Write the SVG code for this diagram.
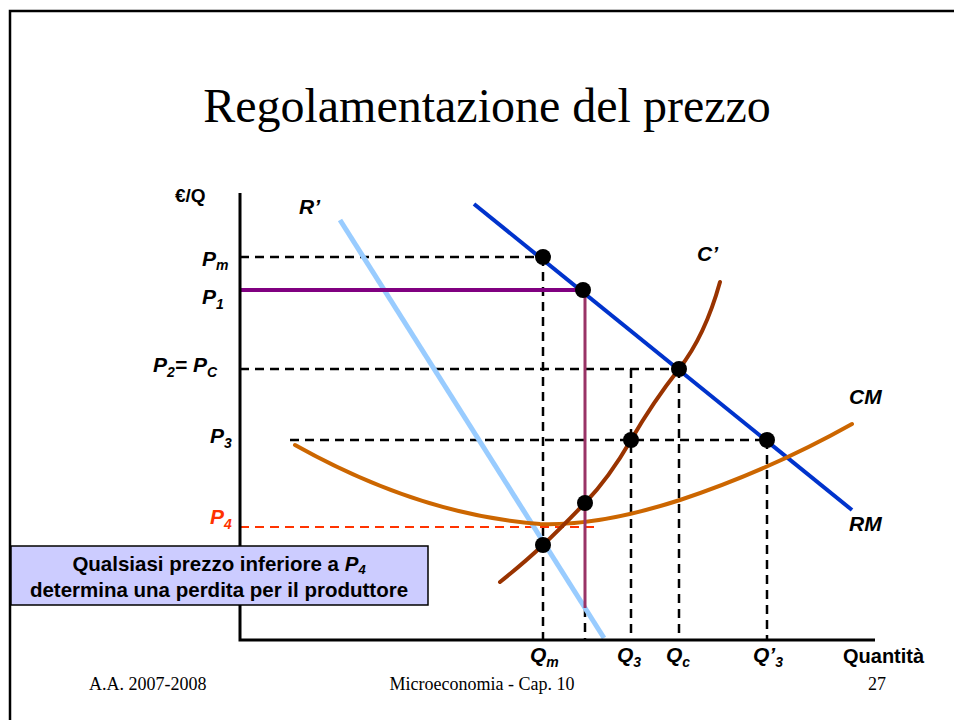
<svg xmlns="http://www.w3.org/2000/svg" width="954" height="720" viewBox="0 0 954 720">
<style>
.dash{stroke:#000;stroke-width:2.5;stroke-dasharray:9,6;fill:none}
.lbl{font-family:"Liberation Sans",Arial,sans-serif;font-weight:bold;font-style:italic;font-size:21px;fill:#000}
.sub{font-size:14px}
.ax{font-family:"Liberation Sans",Arial,sans-serif;font-weight:bold;font-size:20px;fill:#000}
.foot{font-family:"Liberation Serif","Times New Roman",serif;font-size:18px;fill:#000}
.note{font-family:"Liberation Sans",Arial,sans-serif;font-weight:bold;font-size:20.5px;fill:#000}
.dot{fill:#000}
</style>
<rect x="0" y="0" width="954" height="720" fill="#fff"/>
<rect x="10" y="11" width="960" height="720" fill="none" stroke="#000" stroke-width="2.5"/>
<text x="487" y="122" text-anchor="middle" font-family="Liberation Serif,'Times New Roman',serif" font-size="48" fill="#000">Regolamentazione del prezzo</text>
<g id="connectors">
<path class="dash" d="M240,257 H543 M543,257 V640"/>
<path class="dash" d="M240,369 H679 M679,369 V640 M631,369 V640"/>
<path class="dash" d="M290,440 H767 M767,440 V640"/>
<path class="dash" d="M585,608 V640"/>
<path d="M240,527 H595" stroke="#ff3300" stroke-width="2" stroke-dasharray="9,6" fill="none"/>
<line x1="340" y1="220" x2="604" y2="638" stroke="#99ccff" stroke-width="5"/>
<line x1="474" y1="204" x2="852" y2="510" stroke="#0033cc" stroke-width="4"/>
<path d="M295,445 Q420,515 540,524 Q600,526 680,500 Q770,470 852,424" fill="none" stroke="#cc6600" stroke-width="4" stroke-linecap="round"/>
<path d="M500,582 Q525,562 543,545 T585,503 T631,440 T679,369 T720,282" fill="none" stroke="#993300" stroke-width="4" stroke-linecap="round"/>
<line x1="240" y1="290" x2="583" y2="290" stroke="#800080" stroke-width="4"/>
<line x1="585" y1="290" x2="585" y2="608" stroke="#993366" stroke-width="3"/>
<path d="M240,193 V640 H875" fill="none" stroke="#000" stroke-width="3"/>
</g>
<g id="points">
<circle class="dot" cx="543" cy="257" r="8"/>
<circle class="dot" cx="583" cy="290" r="8"/>
<circle class="dot" cx="679" cy="369" r="8"/>
<circle class="dot" cx="767" cy="440" r="8"/>
<circle class="dot" cx="631" cy="440" r="8"/>
<circle class="dot" cx="585" cy="503" r="8"/>
<circle class="dot" cx="543" cy="545" r="8"/>
</g>
<g id="labels">
<text class="ax" x="175" y="202" style="font-size:19px">€/Q</text>
<text class="lbl" x="299" y="214">R’</text>
<text class="lbl" x="697" y="261">C’</text>
<text class="lbl" x="849" y="404">CM</text>
<text class="lbl" x="849" y="531">RM</text>
<text class="lbl" x="202" y="266">P<tspan class="sub" dy="4">m</tspan></text>
<text class="lbl" x="202" y="304">P<tspan class="sub" dy="5">1</tspan></text>
<text class="lbl" x="153" y="372">P<tspan class="sub" dy="5">2</tspan><tspan dy="-5">= P</tspan><tspan class="sub" dy="5">C</tspan></text>
<text class="lbl" x="210" y="443">P<tspan class="sub" dy="5">3</tspan></text>
<text class="lbl" x="210" y="524" style="fill:#ff3300">P<tspan class="sub" dy="5">4</tspan></text>
<text class="lbl" x="530" y="662">Q<tspan class="sub" dy="5">m</tspan></text>
<text class="lbl" x="617" y="662">Q<tspan class="sub" dy="5">3</tspan></text>
<text class="lbl" x="666" y="662">Q<tspan class="sub" dy="5">c</tspan></text>
<text class="lbl" x="753" y="662">Q’<tspan class="sub" dy="5">3</tspan></text>
<text class="ax" x="843" y="663">Quantità</text>
</g>
<g id="note">
<rect x="11" y="546" width="417" height="59" fill="#ccccff" stroke="#000" stroke-width="1.5"/>
<text class="note" x="219" y="571" text-anchor="middle">Qualsiasi prezzo inferiore a <tspan font-style="italic">P</tspan><tspan font-style="italic" font-size="13" dy="3">4</tspan></text>
<text class="note" x="219" y="597" text-anchor="middle">determina una perdita per il produttore</text>
</g>
<g id="footer">
<text class="foot" x="89" y="690">A.A. 2007-2008</text>
<text class="foot" x="482" y="690" text-anchor="middle">Microeconomia - Cap. 10</text>
<text class="foot" x="868" y="690">27</text>
</g>
</svg>
